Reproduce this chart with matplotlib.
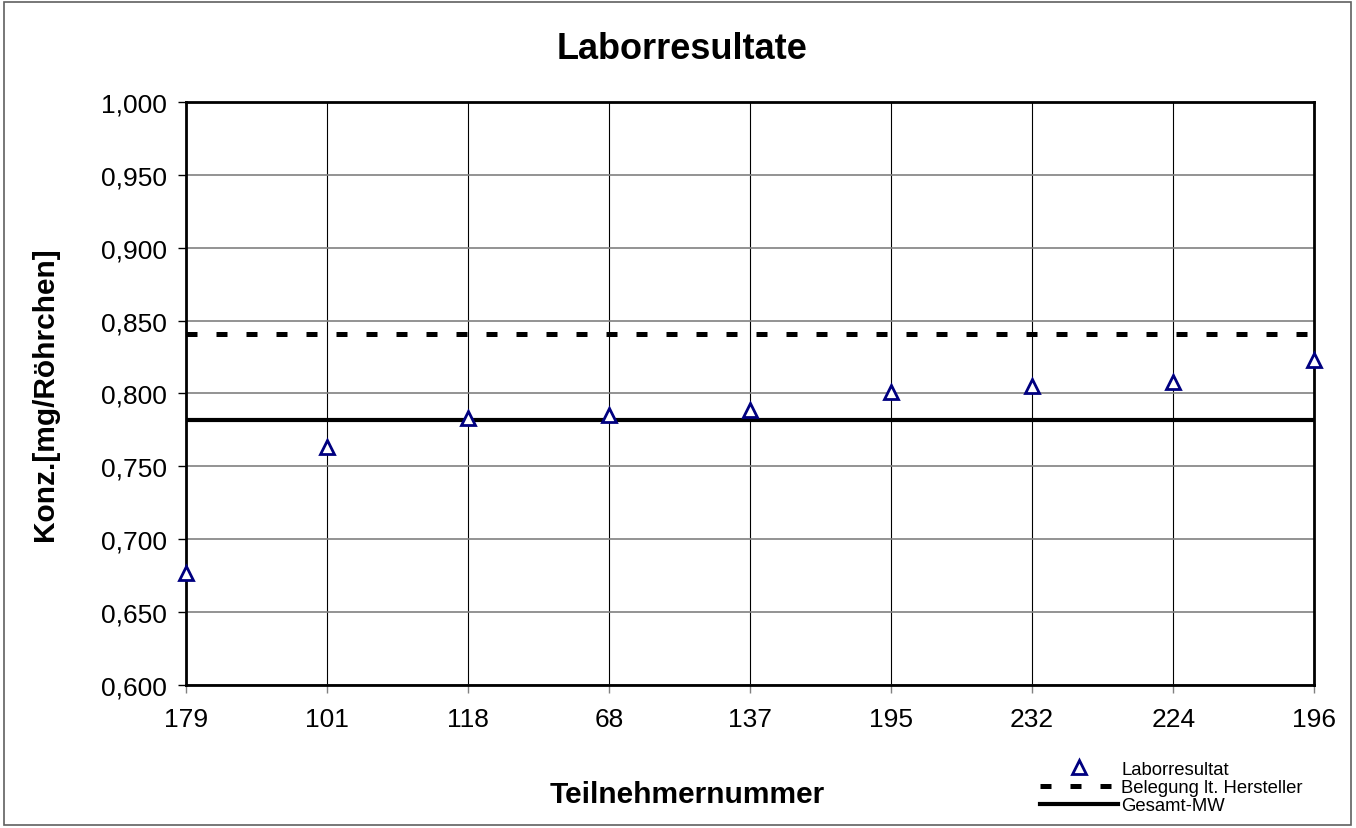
import matplotlib
matplotlib.use("Agg")
import matplotlib.pyplot as plt
from matplotlib.patches import Rectangle

plt.rcParams['font.family'] = ['Liberation Sans', 'DejaVu Sans']

participants = ["179", "101", "118", "68", "137", "195", "232", "224", "196"]
results = [0.677, 0.763, 0.783, 0.785, 0.789, 0.801, 0.805, 0.808, 0.823]
manufacturer_value = 0.841
overall_mean = 0.782
y_ticks = [0.600, 0.650, 0.700, 0.750, 0.800, 0.850, 0.900, 0.950, 1.000]
y_tick_labels = ["0,600", "0,650", "0,700", "0,750", "0,800", "0,850", "0,900", "0,950", "1,000"]

fig = plt.figure(figsize=(13.56, 8.29), dpi=100)
fig.patches.append(Rectangle((0.003, 0.004), 0.993, 0.992, transform=fig.transFigure,
                             fill=False, edgecolor="#606060", linewidth=1.2))
ax = fig.add_axes([0.1372, 0.1725, 0.8320, 0.7033])

x = list(range(len(participants)))
ax.plot(x, results, linestyle="none", marker="^", markersize=10, markerfacecolor="white",
        markeredgecolor="#000080", markeredgewidth=2, label="Laborresultat", zorder=5, clip_on=False)
ax.axhline(manufacturer_value, color="black", linestyle=(0, (2.2, 3.8)), linewidth=3.6,
           label="Belegung lt. Hersteller", zorder=4)
ax.axhline(overall_mean, color="black", linestyle="-", linewidth=3, label="Gesamt-MW", zorder=4)

ax.set_xlim(0, len(participants) - 1)
ax.set_ylim(0.6, 1.0)
ax.set_xticks(x)
ax.set_xticklabels(participants, fontsize=19)
ax.set_yticks(y_ticks)
ax.set_yticklabels(y_tick_labels, fontsize=19)
ax.tick_params(axis="both", direction="out", length=6, width=1, colors="black")
ax.tick_params(axis="y", pad=8)
ax.tick_params(axis="x", color="#808080", pad=10)

ax.grid(axis="y", color="#808080", linewidth=1.2)
ax.grid(axis="x", color="black", linewidth=0.8)
ax.set_axisbelow(True)
for s in ax.spines.values():
    s.set_color("black")
    s.set_linewidth(2)

fig.text(0.503, 0.940, "Laborresultate", fontsize=26, fontweight="bold", ha="center", va="center")
fig.text(0.507, 0.041, "Teilnehmernummer", fontsize=21.5, fontweight="bold", ha="center", va="center")
fig.text(0.033, 0.524, "Konz.[mg/Röhrchen]", fontsize=21.5, fontweight="bold", ha="center", va="center",
         rotation=90)

leg = fig.legend(loc="upper left", bbox_to_anchor=(0.767, 0.081), frameon=False, fontsize=13.3,
                 handlelength=4.2, handletextpad=0.2, labelspacing=0.07, borderpad=0, borderaxespad=0)

fig.savefig("out.png", dpi=100)
